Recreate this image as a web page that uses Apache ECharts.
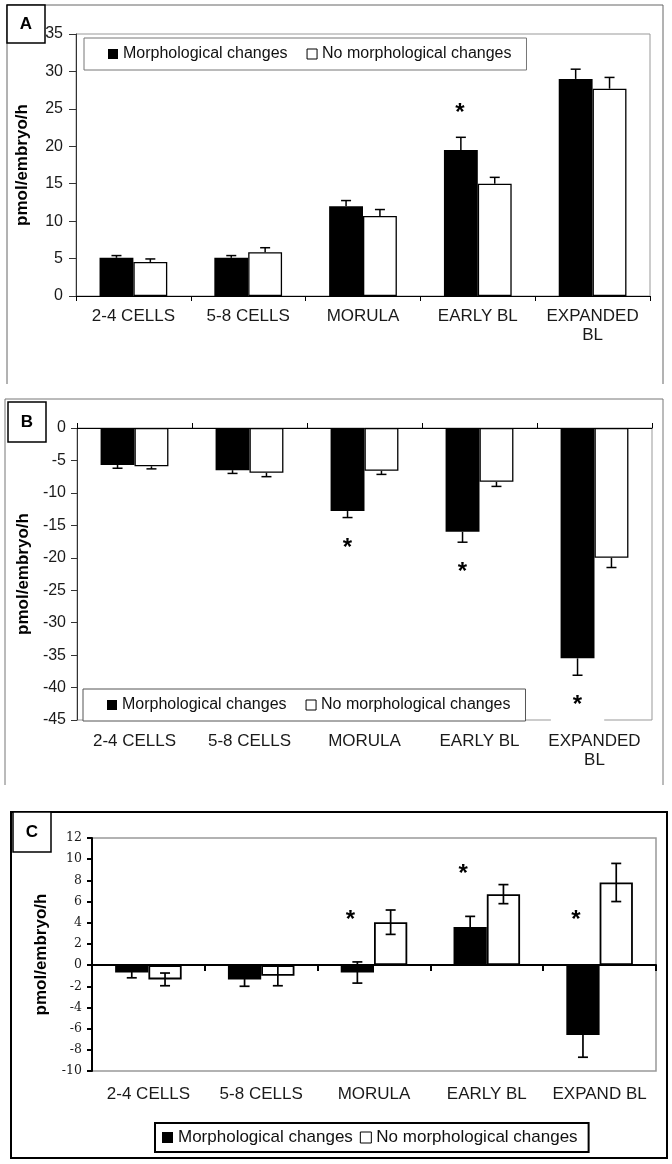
<!DOCTYPE html>
<html><head><meta charset="utf-8">
<script src="https://cdn.jsdelivr.net/npm/echarts@6/dist/echarts.min.js"></script>
<style>html,body{margin:0;padding:0;background:#fff}#c{width:672px;height:1164px}</style>
</head><body><div id="c"></div>
<script>
// ---------- DATA ----------
const catsAB = ['2-4 CELLS', '5-8 CELLS', 'MORULA', 'EARLY BL', 'EXPANDED\nBL'];
const catsC = ['2-4 CELLS', '5-8 CELLS', 'MORULA', 'EARLY BL', 'EXPAND BL'];
const seriesNames = ['Morphological changes', 'No morphological changes'];
const yTitle = 'pmol/embryo/h';

const aMorph = [5.1, 5.1, 12.0, 19.5, 29.0];
const aMorphErr = [0.3, 0.3, 0.75, 1.7, 1.3];
const aNoMorph = [4.55, 5.85, 10.7, 15.0, 27.7];
const aNoMorphErr = [0.4, 0.6, 0.85, 0.85, 1.5];
const aStars = [null, null, null, 25.1, null];

const bMorph = [-5.7, -6.5, -12.8, -16.0, -35.5];
const bMorphErr = [0.5, 0.5, 1.0, 1.6, 2.6];
const bNoMorph = [-5.9, -6.9, -6.6, -8.3, -20.0];
const bNoMorphErr = [0.4, 0.6, 0.55, 0.7, 1.5];
const bStars = [null, null, -17.7, -21.4, -41.9];

const cMorph = [-0.7, -1.35, -0.7, 3.6, -6.6];
const cMorphErr = [0.5, 0.65, 1.0, 1.0, 2.1];
const cNoMorph = [-1.35, -1.0, 4.05, 6.7, 7.8];
const cNoMorphErr = [0.6, 0.95, 1.15, 0.9, 1.8];
const cStars = [null, null, 4.7, 9.07, 4.7];

const yTicksA = {min: 0, max: 35, interval: 5};
const yTicksB = {min: -45, max: 0, interval: 5};
const yTicksC = {min: -10, max: 12, interval: 2};

// ---------- BUILD ----------
const SANS = 'Liberation Sans, Arial, sans-serif';
const BARFRAC = 0.295;

function errData(m, me, n, ne) {
  const d = [];
  m.forEach((v, i) => d.push([i, v, me[i], 0]));
  n.forEach((v, i) => d.push([i, v, ne[i], 1]));
  return d;
}
function starData(s) {
  const d = [];
  s.forEach((v, i) => { if (v !== null) d.push([i, v]); });
  return d;
}
function errRender(mode, lw) {
  return function (params, api) {
    const ci = api.value(0), v = api.value(1), e = api.value(2), s = api.value(3);
    const band = api.size([1, 0])[0];
    const w = band * BARFRAC;
    const cx = api.coord([ci, 0])[0] + (s === 0 ? -w / 2 : w / 2);
    const hi = mode === 'down' ? v : v + e;
    const lo = mode === 'up' ? v : v - e;
    const yHi = api.coord([ci, hi])[1];
    const yLo = api.coord([ci, lo])[1];
    const cap = 5;
    const st = {stroke: '#000', lineWidth: lw};
    const ch = [{type: 'line', shape: {x1: cx, y1: yHi, x2: cx, y2: yLo}, style: st}];
    if (mode !== 'down') ch.push({type: 'line', shape: {x1: cx - cap, y1: yHi, x2: cx + cap, y2: yHi}, style: st});
    if (mode !== 'up') ch.push({type: 'line', shape: {x1: cx - cap, y1: yLo, x2: cx + cap, y2: yLo}, style: st});
    return {type: 'group', children: ch};
  };
}
function starRender(dx, bg) {
  return function (params, api) {
    const ci = api.value(0), v = api.value(1);
    const band = api.size([1, 0])[0];
    const w = band * BARFRAC;
    const p = api.coord([ci, v]);
    const fs = 24;
    const style = {text: '*', x: p[0] - w / 2 + dx, y: p[1] + fs * 0.22, fill: '#000',
      font: 'bold ' + fs + 'px ' + SANS, align: 'center', verticalAlign: 'middle'};
    if (bg) { style.backgroundColor = '#fff'; style.padding = [2, 22, 14, 22]; }
    return {type: 'text', style: style};
  };
}

const grids = [
  {left: 76, right: 22, top: 34, bottom: 868, show: true, borderColor: '#999', borderWidth: 1},
  {left: 77, right: 20, top: 428, bottom: 444, show: true, borderColor: '#999', borderWidth: 1},
  {left: 92, right: 16, top: 838, bottom: 93, show: true, borderColor: '#999', borderWidth: 1.5}
];

const catLabel = (m) => ({show: true, interval: 0, fontSize: 17, fontFamily: SANS, color: '#1a1a1a', margin: m, lineHeight: 19});

const xAxes = [
  // A
  {type: 'category', gridIndex: 0, data: catsAB, position: 'bottom',
    axisLine: {show: true, lineStyle: {color: '#000', width: 1}},
    axisTick: {show: true, length: 5, lineStyle: {color: '#000'}},
    axisLabel: catLabel(11)},
  // B labels
  {type: 'category', gridIndex: 1, data: catsAB, position: 'bottom',
    axisLine: {show: false, onZero: false}, axisTick: {show: false},
    axisLabel: catLabel(12)},
  // B zero line at top
  {type: 'category', gridIndex: 1, data: catsAB, position: 'top',
    axisLine: {show: true, onZero: false, lineStyle: {color: '#000', width: 1}},
    axisTick: {show: true, length: 5, lineStyle: {color: '#000'}},
    axisLabel: {show: false}},
  // C labels
  {type: 'category', gridIndex: 2, data: catsC, position: 'bottom',
    axisLine: {show: false, onZero: false}, axisTick: {show: false},
    axisLabel: catLabel(14)},
  // C zero line
  {type: 'category', gridIndex: 2, data: catsC, position: 'bottom',
    axisLine: {show: true, onZero: true, lineStyle: {color: '#000', width: 2}},
    axisTick: {show: true, length: 6, lineStyle: {color: '#000', width: 2}},
    axisLabel: {show: false}}
];

const yName = (gap, fam) => ({name: yTitle, nameLocation: 'middle', nameGap: gap,
  nameTextStyle: {fontSize: 17, fontWeight: 'bold', fontFamily: fam, color: '#000'}});

const yAxes = [
  Object.assign({type: 'value', gridIndex: 0}, yTicksA, yName(45, SANS), {
    axisLine: {show: true, lineStyle: {color: '#333'}},
    axisTick: {show: true, length: 7, lineStyle: {color: '#333'}},
    axisLabel: {fontSize: 16, fontFamily: SANS, color: '#1a1a1a', margin: 13},
    splitLine: {show: false}}),
  Object.assign({type: 'value', gridIndex: 1}, yTicksB, yName(45, SANS), {
    axisLine: {show: true, onZero: false, lineStyle: {color: '#333'}},
    axisTick: {show: true, length: 6, lineStyle: {color: '#333'}},
    axisLabel: {fontSize: 16, fontFamily: SANS, color: '#1a1a1a', margin: 11},
    splitLine: {show: false}}),
  Object.assign({type: 'value', gridIndex: 2}, yTicksC, yName(42, SANS), {
    axisLine: {show: true, onZero: false, lineStyle: {color: '#000', width: 2}},
    axisTick: {show: true, length: 5, lineStyle: {color: '#000', width: 2}},
    axisLabel: {fontSize: 12.5, fontFamily: 'DejaVu Serif, serif', color: '#1a1a1a', margin: 10},
    splitLine: {show: false}})
];

const blackStyle = {color: '#000'};
const whiteStyle = (bw) => ({color: '#fff', borderColor: '#000', borderWidth: bw});

function panelSeries(xi, yi, m, n, bw) {
  return [
    {type: 'bar', name: seriesNames[0], xAxisIndex: xi, yAxisIndex: yi, data: m,
      barWidth: (BARFRAC * 100) + '%', barGap: '0%', itemStyle: blackStyle, silent: true},
    {type: 'bar', name: seriesNames[1], xAxisIndex: xi, yAxisIndex: yi, data: n,
      barWidth: (BARFRAC * 100) + '%', barGap: '0%', itemStyle: whiteStyle(bw), silent: true}
  ];
}

const series = [].concat(
  panelSeries(0, 0, aMorph, aNoMorph, 1.3),
  panelSeries(1, 1, bMorph, bNoMorph, 1.3),
  panelSeries(3, 2, cMorph, cNoMorph, 1.8),
  [
    {type: 'custom', xAxisIndex: 0, yAxisIndex: 0, renderItem: errRender('up', 1.5), data: errData(aMorph, aMorphErr, aNoMorph, aNoMorphErr), z: 5, silent: true},
    {type: 'custom', xAxisIndex: 1, yAxisIndex: 1, renderItem: errRender('down', 1.5), data: errData(bMorph, bMorphErr, bNoMorph, bNoMorphErr), z: 5, silent: true},
    {type: 'custom', xAxisIndex: 3, yAxisIndex: 2, renderItem: errRender('both', 1.7), data: errData(cMorph, cMorphErr, cNoMorph, cNoMorphErr), z: 5, silent: true},
    {type: 'custom', xAxisIndex: 0, yAxisIndex: 0, renderItem: starRender(-1, false), data: starData(aStars), z: 6, silent: true},
    {type: 'custom', xAxisIndex: 1, yAxisIndex: 1, renderItem: starRender(0, true), data: starData(bStars), z: 6, silent: true},
    {type: 'custom', xAxisIndex: 3, yAxisIndex: 2, renderItem: starRender(-7, false), data: starData(cStars), z: 6, silent: true}
  ]
);

const legendBase = (left, top, pad, gap, fs, bw, bc, iw) => ({
  left: left, top: top, orient: 'horizontal', padding: pad, itemGap: gap,
  itemWidth: iw, itemHeight: iw, icon: 'rect', borderColor: bc, borderWidth: bw,
  backgroundColor: '#fff', selectedMode: false, z: 10,
  textStyle: {fontSize: fs, fontFamily: SANS, color: '#111'},
  data: [{name: seriesNames[0]}, {name: seriesNames[1], itemStyle: {color: '#fff', borderColor: '#000', borderWidth: 1}}]
});

const legends = [
  legendBase(84, 38, [8, 15, 8, 24], 19, 16, 1, '#777', 10),
  legendBase(83, 689, [8, 15, 8, 24], 19, 16, 1, '#555', 10),
  legendBase(155, 1123, [6, 11, 6, 7], 7, 17, 2, '#000', 11)
];

function labelBox(x, y, w, h, t, fam) {
  return [
    {type: 'rect', shape: {x: x, y: y, width: w, height: h}, style: {fill: '#fff', stroke: '#000', lineWidth: 1.5}, z: 20},
    {type: 'text', style: {text: t, x: x + w / 2, y: y + h / 2, align: 'center', verticalAlign: 'middle', font: 'bold 17px ' + fam, fill: '#000'}, z: 21}
  ];
}

const graphics = [
  {type: 'polyline', shape: {points: [[7, 384], [7, 5], [663, 5], [663, 384]]}, style: {stroke: '#666', lineWidth: 1, fill: null}, z: 0},
  {type: 'polyline', shape: {points: [[5, 785], [5, 399], [663, 399], [663, 785]]}, style: {stroke: '#777', lineWidth: 1, fill: null}, z: 0},
  {type: 'rect', shape: {x: 11, y: 812, width: 656, height: 346}, style: {stroke: '#000', lineWidth: 2, fill: null}, z: 0}
].concat(labelBox(7, 5, 38, 38, 'A', SANS), labelBox(8, 402, 38, 40, 'B', SANS), labelBox(13, 812, 38, 40, 'C', SANS));

const chart = echarts.init(document.getElementById('c'), null, {renderer: 'canvas'});
chart.setOption({
  animation: false,
  backgroundColor: '#fff',
  grid: grids,
  xAxis: xAxes,
  yAxis: yAxes,
  legend: legends,
  series: series,
  graphic: graphics
});
</script></body></html>
